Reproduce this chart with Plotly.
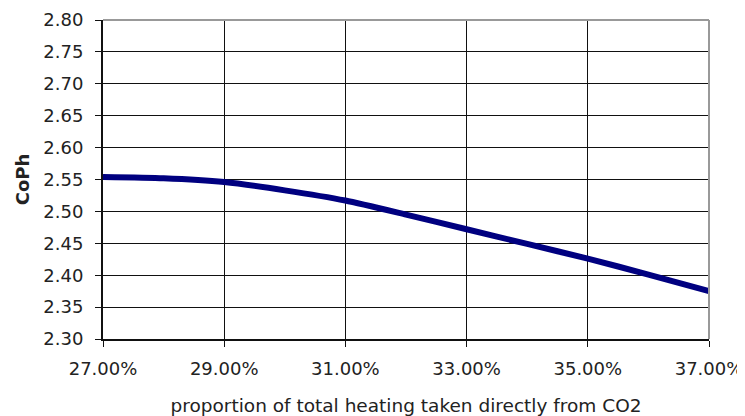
import plotly.graph_objects as go

x_share = [0.27, 0.28, 0.29, 0.30, 0.31, 0.32, 0.33, 0.34, 0.35, 0.36, 0.37]
coph = [2.554, 2.552, 2.546, 2.533, 2.517, 2.495, 2.472, 2.449, 2.426, 2.401, 2.375]
x_ticks = [0.27, 0.29, 0.31, 0.33, 0.35, 0.37]
y_ticks = [2.30, 2.35, 2.40, 2.45, 2.50, 2.55, 2.60, 2.65, 2.70, 2.75, 2.80]

font_fam = "DejaVu Sans, sans-serif"

fig = go.Figure()
fig.add_trace(go.Scatter(x=x_share, y=coph, mode="lines",
                         line=dict(color="#000080", width=6, shape="spline", smoothing=0.6),
                         showlegend=False, hoverinfo="skip"))

fig.update_layout(
    width=737, height=408,
    margin=dict(l=95, r=36, t=12, b=77),
    paper_bgcolor="white", plot_bgcolor="white",
    font=dict(family=font_fam, size=18, color="#222"),
    xaxis=dict(range=[0.27, 0.37], tickvals=x_ticks, tickformat=".2%",
               automargin=False, ticklabeloverflow="allow",
               showgrid=True, gridcolor="#111", gridwidth=1,
               showline=True, linecolor="#111", linewidth=2,
               ticks="outside", ticklen=6, tickcolor="#111", tickwidth=1,
               ticklabelstandoff=6,
               zeroline=False,
               title=dict(text="proportion of total heating taken directly from CO2",
                          font=dict(size=18.5), standoff=24)),
    yaxis=dict(range=[2.30, 2.80], tickvals=y_ticks, tickformat=".2f",
               automargin=False, ticklabeloverflow="allow",
               showgrid=True, gridcolor="#111", gridwidth=1,
               showline=True, linecolor="#111", linewidth=2,
               ticks="outside", ticklen=6, tickcolor="#111", tickwidth=1,
               ticklabelstandoff=8,
               zeroline=False,
               title=dict(text="<b>CoPh</b>", font=dict(size=18), standoff=9)),
    shapes=[
        dict(type="line", xref="paper", yref="paper", x0=0, x1=1, y0=1, y1=1,
             line=dict(color="#999", width=2), layer="above"),
        dict(type="line", xref="paper", yref="paper", x0=1, x1=1, y0=0, y1=1,
             line=dict(color="#999", width=2), layer="above"),
    ],
)

fig.write_html("out.html")
